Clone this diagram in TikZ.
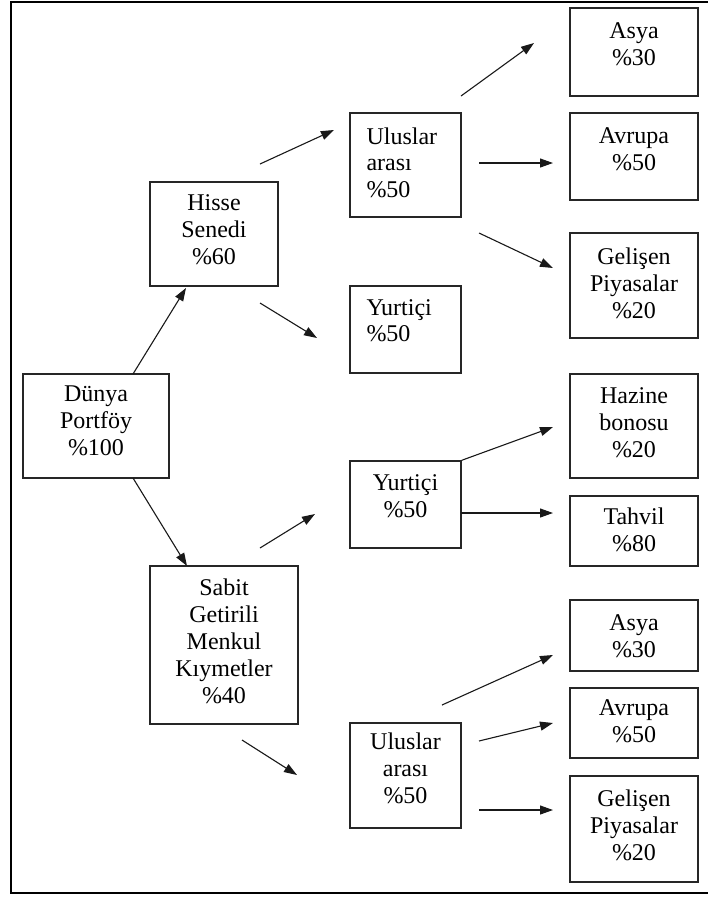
\documentclass[tikz,border=0pt]{standalone}
\usepackage{fontspec}
\setmainfont{Liberation Serif}
\usetikzlibrary{arrows.meta,fit}
\begin{document}
\begin{tikzpicture}[x=1pt,y=-1pt,
  box/.style={draw=black!85,line width=1.4pt,inner sep=0pt},
  txt/.style={inner sep=0pt,align=center,font=\fontsize{24}{27}\selectfont},
  ltxt/.style={inner sep=0pt,align=left,anchor=north west,font=\fontsize{24}{26.5}\selectfont},
  arr/.style={black!90,line width=1.1pt,-{Triangle[length=13pt,width=9pt]}}]
\useasboundingbox (0,0) rectangle (708,898);
\clip (0,0) rectangle (708,898);
% outer frame
\draw[line width=2.6pt] (11,2) rectangle (716,893);

% boxes
\node[box,fit={(23,374) (169,478)}]  (dunya) {};
\node[box,fit={(150,182) (278,286)}] (hisse) {};
\node[box,fit={(150,566) (298,724)}] (sabit) {};
\node[box,fit={(350,113) (461,217)}] (ulus1) {};
\node[box,fit={(350,286) (461,373)}] (yurt1) {};
\node[box,fit={(350,461) (461,548)}] (yurt2) {};
\node[box,fit={(350,723) (461,828)}] (ulus2) {};
\node[box,fit={(570,8) (698,96)}]    (asya1) {};
\node[box,fit={(570,113) (698,200)}] (avru1) {};
\node[box,fit={(570,233) (698,338)}] (geli1) {};
\node[box,fit={(570,374) (698,478)}] (hazine) {};
\node[box,fit={(570,496) (698,566)}] (tahvil) {};
\node[box,fit={(570,600) (698,671)}] (asya2) {};
\node[box,fit={(570,688) (698,758)}] (avru2) {};
\node[box,fit={(570,776) (698,882)}] (geli2) {};

% labels
\node[txt,anchor=north] (dunyaT) at ([yshift=-12pt]dunya.north) {Dünya\\Portföy\\\%100};
\node[txt,anchor=north] (hisseT) at ([yshift=-13pt]hisse.north) {Hisse\\Senedi\\\%60};
\node[txt,anchor=north] (sabitT) at ([yshift=-13pt]sabit.north) {Sabit\\Getirili\\Menkul\\Kıymetler\\\%40};
\node[ltxt] (ulus1T) at ([xshift=17pt,yshift=-15pt]ulus1.north west) {Uluslar\\arası\\\%50};
\node[ltxt] (yurt1T) at ([xshift=17pt,yshift=-14pt]yurt1.north west) {Yurtiçi\\\%50};
\node[txt,anchor=north] (yurt2T) at ([yshift=-14pt]yurt2.north) {Yurtiçi\\\%50};
\node[txt,anchor=north] (ulus2T) at ([yshift=-10pt]ulus2.north) {Uluslar\\arası\\\%50};
\node[txt,anchor=north] (asya1T) at ([yshift=-15pt]asya1.north) {Asya\\\%30};
\node[txt,anchor=north] (avru1T) at ([yshift=-15pt]avru1.north) {Avrupa\\\%50};
\node[txt,anchor=north] (geli1T) at ([yshift=-15pt]geli1.north) {Gelişen\\Piyasalar\\\%20};
\node[txt,anchor=north] (hazineT) at ([yshift=-14pt]hazine.north) {Hazine\\bonosu\\\%20};
\node[txt,anchor=north] (tahvilT) at ([yshift=-12pt]tahvil.north) {Tahvil\\\%80};
\node[txt,anchor=north] (asya2T) at ([yshift=-15pt]asya2.north) {Asya\\\%30};
\node[txt,anchor=north] (avru2T) at ([yshift=-12pt]avru2.north) {Avrupa\\\%50};
\node[txt,anchor=north] (geli2T) at ([yshift=-14pt]geli2.north) {Gelişen\\Piyasalar\\\%20};

% connector ends
\coordinate (dh1) at (133,374);  \coordinate (dh2) at (186,288);
\coordinate (ds1) at (133,478);  \coordinate (ds2) at (187,566);
\coordinate (hu1) at (260,164);  \coordinate (hu2) at (334,130);
\coordinate (hy1) at (260,303);  \coordinate (hy2) at (317,338);
\coordinate (sy1) at (260,548);  \coordinate (sy2) at (315,514);
\coordinate (su1) at (242,740);  \coordinate (su2) at (297,775);
\coordinate (ua1) at (461,96);   \coordinate (ua2) at (534,43);
\coordinate (ue1) at (479,163);  \coordinate (ue2) at (553,163);
\coordinate (ug1) at (479,233);  \coordinate (ug2) at (553,268);
\coordinate (yt1) at (461,513);  \coordinate (yt2) at (553,513);
\coordinate (va1) at (442,705);  \coordinate (va2) at (553,655);
\coordinate (ve1) at (479,741);  \coordinate (ve2) at (553,723);
\coordinate (vg1) at (479,810);  \coordinate (vg2) at (553,810);
\coordinate (yh2) at (553,427);

% connectors
\draw[arr] (dh1) -- (dh2);
\draw[arr] (ds1) -- (ds2);
\draw[arr] (hu1) -- (hu2);
\draw[arr] (hy1) -- (hy2);
\draw[arr] (sy1) -- (sy2);
\draw[arr] (su1) -- (su2);
\draw[arr] (ua1) -- (ua2);
\draw[arr] (ue1) -- (ue2);
\draw[arr] (ug1) -- (ug2);
\draw[arr] (yurt2.north east) -- (yh2);
\draw[arr] (yt1) -- (yt2);
\draw[arr] (va1) -- (va2);
\draw[arr] (ve1) -- (ve2);
\draw[arr] (vg1) -- (vg2);
\end{tikzpicture}
\end{document}
